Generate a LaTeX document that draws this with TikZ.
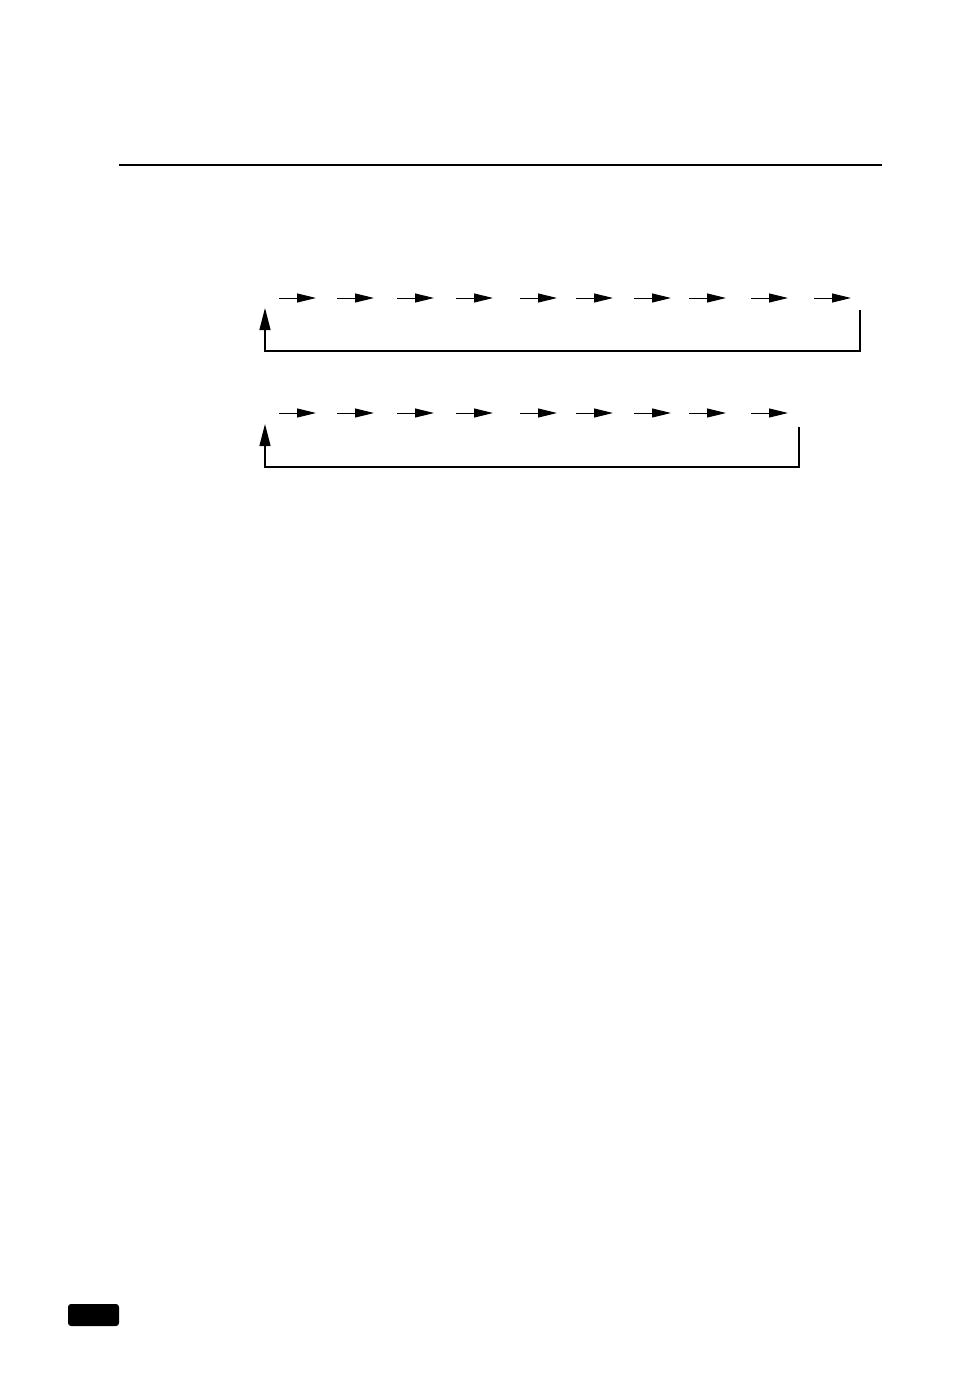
\documentclass[tikz,border=0pt]{standalone}
\usetikzlibrary{arrows.meta}

\tikzset{
  flow arrow/.style={line width=1pt, -{Triangle[length=19pt,width=9pt]}},
  return line/.style={line width=1.3pt, -{Triangle[length=22pt,width=11pt]}},
  page tab/.style={fill=black, rounded corners=3pt, inner sep=0pt,
                   minimum width=51pt, minimum height=22pt}
}

\begin{document}
\begin{tikzpicture}[x=1pt, y=-1pt]
    \useasboundingbox (0, 0) rectangle (954, 1399);

    % Header rule
    \coordinate (ruleL) at (119, 165);
    \coordinate (ruleR) at (882, 165);
    \draw [line width=2.6pt] (ruleL) -- (ruleR);

    % First row: ten steps
    \foreach \x [count=\i] in {279, 337, 397, 456, 520, 576, 634, 689, 751, 814} {
      \coordinate (p\i) at (\x, 298);
      \coordinate (q\i) at (\x + 37, 298);
      \draw [flow arrow] (p\i) -- (q\i);
    }

    % First row: back to start
    \coordinate (backTopR) at (860, 310);
    \coordinate (backLowR) at (860, 351);
    \coordinate (backLowL) at (265, 351);
    \coordinate (backTip) at (265, 308);
    \draw [return line] (backTopR) -- (backLowR) -- (backLowL) -- (backTip);

    % Second row: nine steps
    \foreach \x [count=\i] in {279, 337, 397, 456, 520, 576, 634, 689, 751} {
      \coordinate (r\i) at (\x, 413);
      \coordinate (s\i) at (\x + 37, 413);
      \draw [flow arrow] (r\i) -- (s\i);
    }

    % Second row: back to start
    \coordinate (loopTopR) at (799, 427);
    \coordinate (loopLowR) at (799, 467);
    \coordinate (loopLowL) at (265, 467);
    \coordinate (loopTip) at (265, 424);
    \draw [return line] (loopTopR) -- (loopLowR) -- (loopLowL) -- (loopTip);

    % Page tab
    \node [page tab] (tab) at (93.5, 1315) {};
\end{tikzpicture}
\end{document}
